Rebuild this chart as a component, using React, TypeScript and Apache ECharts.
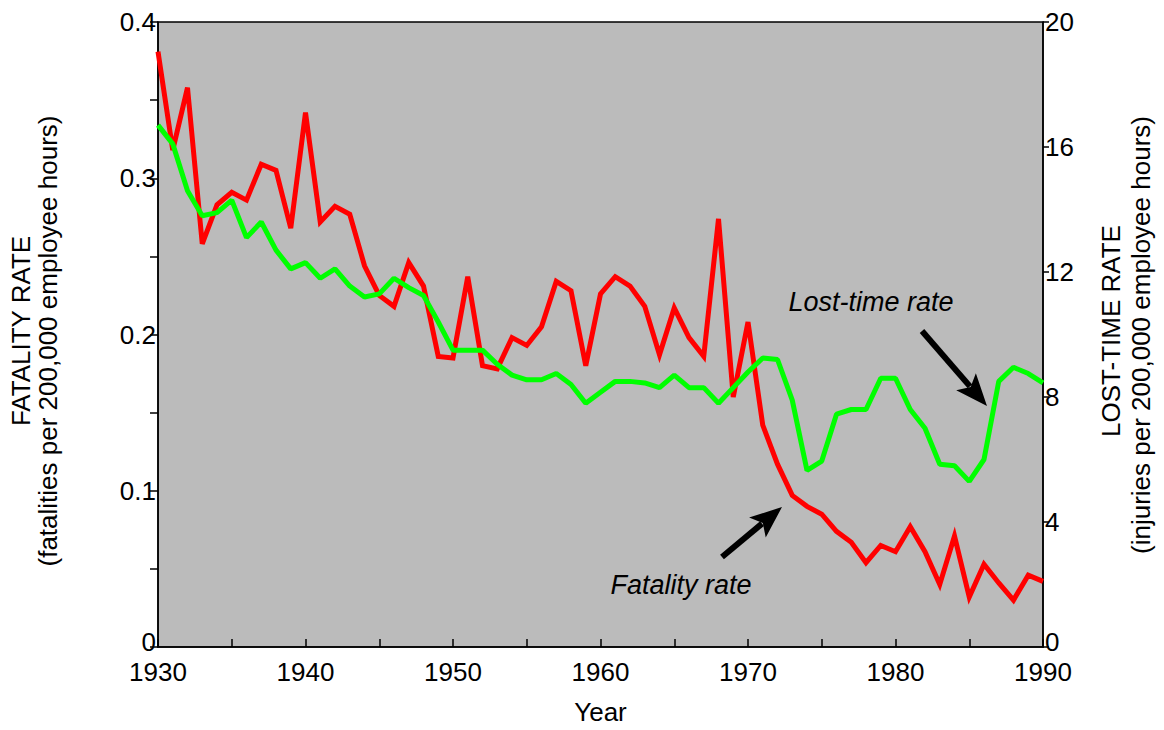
import React, { useEffect, useRef } from "react";
import * as echarts from "echarts";

const years: number[] = [];
for (let y = 1930; y <= 1990; y++) years.push(y);

const fatalityRate = [
  0.381, 0.318, 0.358, 0.258, 0.283, 0.291, 0.286, 0.309, 0.305, 0.268,
  0.342, 0.272, 0.282, 0.277, 0.244, 0.225, 0.218, 0.246, 0.231, 0.186,
  0.185, 0.237, 0.18, 0.178, 0.198, 0.193, 0.205, 0.234, 0.228, 0.18,
  0.226, 0.237, 0.231, 0.218, 0.187, 0.217, 0.198, 0.186, 0.274, 0.16,
  0.208, 0.142, 0.117, 0.097, 0.09, 0.085, 0.074, 0.067, 0.054, 0.065,
  0.061, 0.077, 0.061, 0.04, 0.071, 0.032, 0.053, 0.041, 0.03, 0.046,
  0.042,
];

const lostTimeRate = [
  16.7, 16.1, 14.6, 13.8, 13.9, 14.3, 13.1, 13.6, 12.7, 12.1,
  12.3, 11.8, 12.1, 11.55, 11.2, 11.3, 11.8, 11.5, 11.25, 10.4,
  9.5, 9.5, 9.5, 9.05, 8.7, 8.55, 8.55, 8.75, 8.4, 7.8,
  8.15, 8.5, 8.5, 8.45, 8.3, 8.7, 8.3, 8.3, 7.8, 8.3,
  8.8, 9.25, 9.2, 7.9, 5.65, 5.95, 7.45, 7.6, 7.6, 8.6,
  8.6, 7.6, 7.0, 5.85, 5.8, 5.3, 6.0, 8.5, 8.95, 8.75,
  8.45,
];

const FONT = "Liberation Sans, Arial, sans-serif";
const FS = 26;

function arrow(x1: number, y1: number, x2: number, y2: number) {
  const dx = x2 - x1;
  const dy = y2 - y1;
  const L = Math.hypot(dx, dy);
  const ux = dx / L;
  const uy = dy / L;
  const headLen = 32;
  const headW = 13;
  const bx = x2 - ux * headLen;
  const by = y2 - uy * headLen;
  const px = -uy;
  const py = ux;
  return [
    {
      type: "line",
      shape: { x1, y1, x2: bx + ux * 6, y2: by + uy * 6 },
      style: { stroke: "#000", lineWidth: 6 },
      z: 100,
    },
    {
      type: "polygon",
      shape: {
        points: [
          [x2, y2],
          [bx + px * headW, by + py * headW],
          [bx + ux * 7, by + uy * 7],
          [bx - px * headW, by - py * headW],
        ],
      },
      style: { fill: "#000" },
      z: 100,
    },
  ];
}

function txt(text: string, x: number, y: number, opts: any = {}) {
  return {
    type: "text",
    x,
    y,
    rotation: opts.rotation || 0,
    z: 100,
    style: {
      text,
      fill: "#000",
      font: `${opts.italic ? "italic " : ""}${opts.size || FS}px ${FONT}`,
      align: "center",
      verticalAlign: "middle",
    },
  };
}

export default function App() {
  const ref = useRef<HTMLDivElement>(null);

  useEffect(() => {
    if (!ref.current) return;
    const chart = echarts.init(ref.current, undefined, { renderer: "svg" });
    const redData = years.map((y, i) => [y, fatalityRate[i]]);
    const greenData = years.map((y, i) => [y, lostTimeRate[i]]);

    const axisLine = { show: true, lineStyle: { color: "#000", width: 1.5 } };
    const labelStyle = { color: "#000", fontFamily: FONT, fontSize: FS, lineHeight: 20 };
    const zeroRich = {
      z: { color: "#000", fontFamily: FONT, fontSize: FS, lineHeight: 20, padding: [0, 0, 10, 0] },
    };

    chart.setOption({
      animation: false,
      backgroundColor: "#fff",
      grid: {
        left: 158,
        right: 121,
        top: 22,
        bottom: 80,
        show: true,
        backgroundColor: "#bbbbbb",
        borderColor: "#000",
        borderWidth: 1.5,
      },
      xAxis: {
        type: "value",
        min: 1930,
        max: 1990,
        interval: 5,
        name: "Year",
        nameLocation: "middle",
        nameGap: 52,
        nameTextStyle: { color: "#000", fontFamily: FONT, fontSize: FS },
        axisLine,
        axisTick: { show: true, inside: true, length: 8, lineStyle: { color: "#000", width: 1.5 } },
        axisLabel: {
          ...labelStyle,
          margin: 15,
          formatter: (v: number) => (Math.round(v) % 10 === 0 ? String(v) : ""),
        },
        splitLine: { show: false },
      },
      yAxis: [
        {
          type: "value",
          min: 0,
          max: 0.4,
          interval: 0.05,
          position: "left",
          axisLine,
          axisTick: { show: true, length: 8, lineStyle: { color: "#000", width: 1.5 } },
          axisLabel: {
            ...labelStyle,
            margin: 2,
            rich: zeroRich,
            formatter: (v: number) => {
              const k = Math.round(v * 100);
              if (k === 0) return "{z|0}";
              return k % 10 === 0 ? String(k / 100) : "";
            },
          },
          splitLine: { show: false },
        },
        {
          type: "value",
          min: 0,
          max: 20,
          interval: 4,
          position: "right",
          axisLine,
          axisTick: { show: true, length: 6, lineStyle: { color: "#000", width: 1.5 } },
          axisLabel: {
            ...labelStyle,
            margin: 2,
            rich: zeroRich,
            formatter: (v: number) => (v === 0 ? "{z|0}" : String(v)),
          },
          splitLine: { show: false },
        },
      ],
      series: [
        {
          name: "Fatality rate",
          type: "line",
          yAxisIndex: 0,
          data: redData,
          symbol: "none",
          lineStyle: { color: "#ff0000", width: 5, join: "miter" },
          z: 3,
        },
        {
          name: "Lost-time rate",
          type: "line",
          yAxisIndex: 1,
          data: greenData,
          symbol: "none",
          lineStyle: { color: "#00ff00", width: 5 },
          z: 4,
        },
      ],
      graphic: [
        txt("FATALITY RATE", 21, 331, { rotation: Math.PI / 2 }),
        txt("(fatalities per 200,000 employee hours)", 48, 341, { rotation: Math.PI / 2 }),
        txt("LOST-TIME RATE", 1111, 331, { rotation: Math.PI / 2 }),
        txt("(injuries per 200,000 employee hours)", 1141, 335, { rotation: Math.PI / 2 }),
        txt("Lost-time rate", 871, 302, { italic: true, size: 27 }),
        txt("Fatality rate", 681, 585, { italic: true, size: 27 }),
        ...arrow(922, 331, 987, 406),
        ...arrow(722, 557, 782, 507),
      ],
    });
    return () => chart.dispose();
  }, []);

  return (
    <div
      ref={ref}
      style={{ position: "fixed", left: 0, top: 0, width: 1164, height: 730, background: "#fff" }}
    />
  );
}
